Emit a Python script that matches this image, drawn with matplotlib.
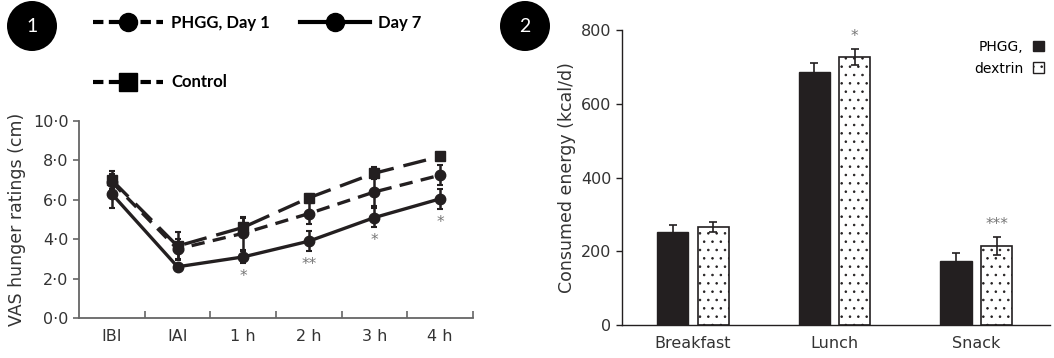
import matplotlib
matplotlib.use('Agg')
import matplotlib.pyplot as plt
from matplotlib.lines import Line2D
from matplotlib.patches import Ellipse, Rectangle
import numpy as np

plt.rcParams['font.family'] = ['DejaVu Sans']
plt.rcParams['hatch.linewidth'] = 0.6

# ---- panel 1 data: VAS hunger ratings ----
timepoints = ['IBI', 'IAI', '1 h', '2 h', '3 h', '4 h']
control_mean = [7.0, 3.65, 4.6, 6.1, 7.35, 8.2]
control_sem = [0.45, 0.7, 0.5, 0.2, 0.3, 0.15]
day1_mean = [6.9, 3.5, 4.3, 5.3, 6.4, 7.25]
day1_sem = [0.4, 0.5, 0.85, 0.55, 0.7, 0.5]
day7_mean = [6.3, 2.6, 3.1, 3.9, 5.1, 6.05]
day7_sem = [0.7, 0.15, 0.3, 0.5, 0.5, 0.5]
day7_sig = ['', '', '*', '**', '*', '*']
vas_ticks = [0, 2, 4, 6, 8, 10]
vas_ticklabels = ['0\u00b70', '2\u00b70', '4\u00b70', '6\u00b70', '8\u00b70', '10\u00b70']

# ---- panel 2 data: consumed energy ----
meals = ['Breakfast', 'Lunch', 'Snack']
phgg_kcal = [252, 686, 174]
phgg_err = [19, 24, 21]
dextrin_kcal = [266, 727, 214]
dextrin_err = [13, 22, 25]
meal_sig = ['', '*', '***']

ink = '#231f20'
grey_txt = '#333333'

fig = plt.figure(figsize=(10.54, 3.58), dpi=100)
W, H = 1054., 358.

####PANEL 1########
ax1 = fig.add_axes([79/W, 40/H, 394/W, 197/H])
x = np.arange(len(timepoints))

ax1.errorbar(x, control_mean, yerr=control_sem, color=ink, lw=2.4, dashes=(7, 3),
             marker='s', markersize=7.5, elinewidth=1.8, capsize=2.5, capthick=1.5, zorder=3)
ax1.errorbar(x, day1_mean, yerr=day1_sem, color=ink, lw=2.4, dashes=(4, 2.5),
             marker='o', markersize=7.5, elinewidth=1.8, capsize=2.5, capthick=1.5, zorder=3)
ax1.errorbar(x, day7_mean, yerr=day7_sem, color=ink, lw=2.4, ls='-',
             marker='o', markersize=7.5, elinewidth=1.8, capsize=2.5, capthick=1.5, zorder=4)

for xi, m, e, s in zip(x, day7_mean, day7_sem, day7_sig):
    if s:
        ax1.text(xi, m - e - 0.3, s, ha='center', va='top', fontsize=11,
                 color='#777777')

ax1.set_xlim(-0.5, len(timepoints) - 0.5)
ax1.set_ylim(0, 10)
ax1.set_xticks(x)
ax1.set_xticklabels(timepoints)
ax1.set_xticks(np.arange(len(timepoints)) + 0.5, minor=True)
ax1.tick_params(axis='x', which='major', length=0, pad=8, labelsize=11.5, labelcolor=grey_txt)
ax1.tick_params(axis='x', which='minor', direction='in', length=5, width=1.2, color='#666666')
ax1.set_yticks(vas_ticks)
ax1.set_yticklabels(vas_ticklabels)
ax1.tick_params(axis='y', direction='out', length=4, width=1.2, color='#666666',
                labelsize=11.5, labelcolor=grey_txt)
ax1.set_ylabel('VAS hunger ratings (cm)', fontsize=12.5, color=grey_txt, labelpad=5)
for side in ['top', 'right']:
    ax1.spines[side].set_visible(False)
for side in ['left', 'bottom']:
    ax1.spines[side].set_color('#666666')
    ax1.spines[side].set_linewidth(1.3)

# legend for panel 1 (2 columns: Day 1 / Control, then Day 7)
h_day1 = Line2D([], [], color='black', lw=3, dashes=(2.5, 1.3), marker='o', markersize=13)
h_day7 = Line2D([], [], color='black', lw=3, ls='-', marker='o', markersize=13)
h_ctrl = Line2D([], [], color='black', lw=3, dashes=(2.5, 1.3), marker='s', markersize=13)
fig.legend([h_day1, h_ctrl, h_day7], ['PHGG, Day 1', 'Control', 'Day 7'],
           ncol=2, loc='upper left', bbox_to_anchor=(93/W, 1 - 15/H), frameon=False,
           prop={'family': 'Lato', 'weight': 'bold', 'size': 12},
           handlelength=4.2, handletextpad=0.5, columnspacing=1.8,
           labelspacing=2.6, borderpad=0, borderaxespad=0)

####PANEL 2########
ax2 = fig.add_axes([622/W, 33/H, 428/W, 295/H])
xm = np.arange(len(meals))
bw = 0.22
off = 0.143
ax2.bar(xm - off, phgg_kcal, bw, yerr=phgg_err, color=ink, edgecolor=ink, lw=1,
        error_kw=dict(ecolor=ink, elinewidth=1.2, capsize=3, capthick=1.2), label='PHGG,')
ax2.bar(xm + off, dextrin_kcal, bw, yerr=dextrin_err, color='white', edgecolor=ink,
        hatch='..', lw=1.2,
        error_kw=dict(ecolor=ink, elinewidth=1.2, capsize=3, capthick=1.2), label='dextrin')
for xi, m, e, s in zip(xm, dextrin_kcal, dextrin_err, meal_sig):
    if s:
        ax2.text(xi + off, m + e + 12, s, ha='center', va='bottom', fontsize=11,
                 color='#777777')

ax2.set_xlim(-0.5, 2.52)
ax2.set_ylim(0, 800)
ax2.set_xticks(xm)
ax2.set_xticklabels(meals)
ax2.set_yticks([0, 200, 400, 600, 800])
ax2.tick_params(axis='x', length=0, pad=8, labelsize=11.5, labelcolor=grey_txt)
ax2.tick_params(axis='y', direction='out', length=4, width=1.0, color=ink,
                labelsize=11.5, labelcolor=grey_txt)
ax2.set_ylabel('Consumed energy (kcal/d)', fontsize=12.5, color=grey_txt, labelpad=4)
for side in ['top', 'right']:
    ax2.spines[side].set_visible(False)
for side in ['left', 'bottom']:
    ax2.spines[side].set_color(ink)
    ax2.spines[side].set_linewidth(1.0)

h_p = Rectangle((0, 0), 1, 1, facecolor=ink, edgecolor=ink)
h_d = Rectangle((0, 0), 1, 1, facecolor='white', edgecolor=ink, hatch='..')
ax2.legend([h_p, h_d], ['PHGG,', 'dextrin'], loc='upper right', bbox_to_anchor=(1.0, 0.985),
           frameon=False, markerfirst=False, fontsize=10, handlelength=0.8,
           handleheight=0.8, handletextpad=0.7, labelspacing=0.55, borderaxespad=0)

# panel number badges
for cx, num in [(32, '1'), (525, '2')]:
    fig.add_artist(Ellipse((cx/W, 1 - 26/H), 50/W, 50/H, transform=fig.transFigure,
                           facecolor='black', edgecolor='none'))
    fig.text(cx/W, 1 - 26/H, num, color='white', ha='center', va='center',
             fontsize=14, family='Lato')

plt.savefig('out.png', dpi=100)
